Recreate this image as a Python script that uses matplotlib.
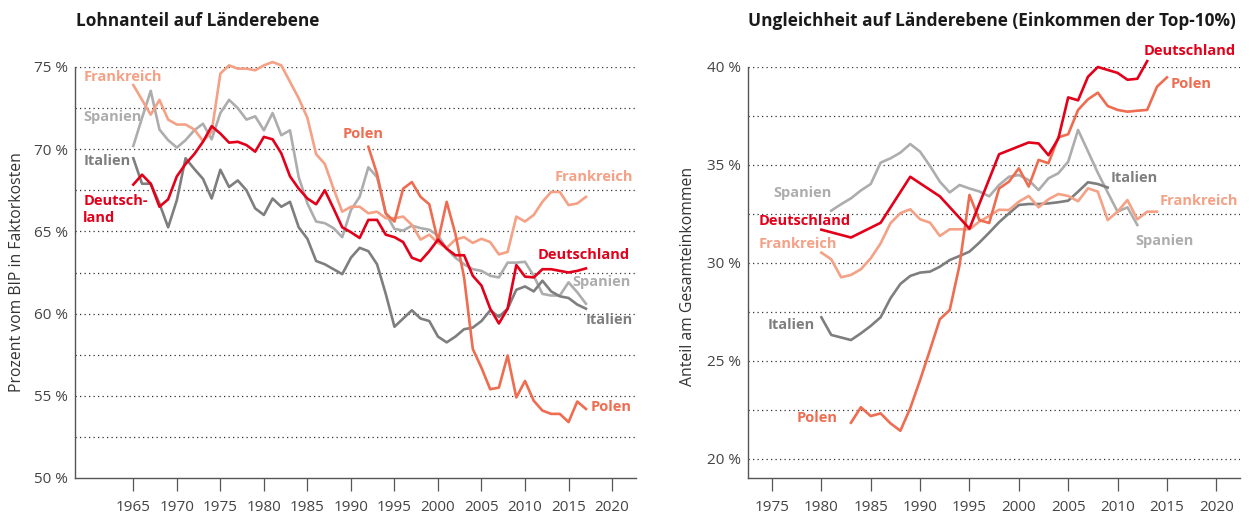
import matplotlib
matplotlib.use("Agg")
import matplotlib.pyplot as plt
import numpy as np

plt.rcParams['font.family'] = ['Open Sans', 'DejaVu Sans']

# Lohnanteil (left panel), 1965-2017
years_l = list(range(1965, 2018))
fr_l = [73.9, 73.0, 72.1, 73.0, 71.8, 71.5, 71.5, 71.2, 70.5, 71.05,
        74.6, 75.1, 74.9, 74.9, 74.8, 75.1, 75.3, 75.1, 74.1, 73.1,
        71.9, 69.7, 69.1, 67.6, 66.2, 66.5, 66.5, 66.1, 66.2, 65.8,
        65.8, 65.9, 65.4, 64.5, 64.8, 64.3, 64.0, 64.5, 64.65, 64.3,
        64.55, 64.35, 63.6, 63.75, 65.9, 65.6, 66.0, 66.8, 67.4, 67.4,
        66.6, 66.7, 67.1]
es_l = [70.2, 71.9, 73.55, 71.2, 70.55, 70.1, 70.55, 71.15, 71.55, 70.6,
        72.2, 73.0, 72.5, 71.8, 72.0, 71.15, 72.2, 70.85, 71.15, 68.3,
        66.7, 65.6, 65.5, 65.2, 64.65, 66.3, 67.1, 68.9, 68.3, 66.1,
        65.15, 65.05, 65.35, 65.2, 65.1, 64.75, 63.95, 63.4, 63.0, 62.7,
        62.6, 62.3, 62.2, 63.1, 63.1, 63.15, 62.3, 61.2, 61.1, 61.1,
        61.9, 61.3, 60.6]
it_l = [69.45, 67.9, 67.9, 66.7, 65.25, 66.9, 69.45, 68.8, 68.2, 67.0,
        68.75, 67.7, 68.1, 67.5, 66.4, 66.0, 67.0, 66.5, 66.8, 65.25,
        64.55, 63.2, 63.0, 62.7, 62.4, 63.4, 64.0, 63.8, 63.0, 61.2,
        59.2, 59.7, 60.2, 59.7, 59.55, 58.6, 58.25, 58.6, 59.05, 59.15,
        59.55, 60.2, 59.8, 60.3, 61.45, 61.65, 61.35, 62.0, 61.35, 61.05,
        60.95, 60.55, 60.3]
de_l = [67.85, 68.45, 67.9, 66.5, 66.95, 68.35, 69.1, 69.7, 70.45, 71.4,
        70.95, 70.4, 70.45, 70.25, 69.85, 70.75, 70.6, 69.75, 68.35, 67.6,
        67.0, 66.65, 67.5, 66.4, 65.25, 64.95, 64.6, 65.7, 65.7, 64.8,
        64.65, 64.35, 63.4, 63.2, 63.8, 64.5, 63.95, 63.55, 63.55, 62.3,
        61.7, 60.3, 59.4, 60.3, 62.95, 62.25, 62.2, 62.7, 62.7, 62.6,
        62.5, 62.6, 62.75]
years_pl_l = list(range(1992, 2018))
pl_l = [70.15, 68.5, 66.1, 65.6, 67.6, 68.0, 67.1, 66.65, 64.4, 66.8,
        64.85, 62.2, 57.85, 56.7, 55.4, 55.5, 57.45, 54.9, 55.9, 54.7,
        54.1, 53.9, 53.9, 53.4, 54.65, 54.2]

# Top-10% Einkommensanteil (right panel)
years_de_r = [1980, 1983, 1986, 1989, 1992, 1995, 1998, 1999, 2000, 2001,
              2002, 2003, 2004, 2005, 2006, 2007, 2008, 2009, 2010, 2011,
              2012, 2013]
de_r = [31.7, 31.3, 32.05, 34.4, 33.4, 31.75, 35.55, 35.75, 35.95, 36.15,
        36.1, 35.5, 36.35, 38.45, 38.3, 39.5, 40.0, 39.85, 39.7, 39.35,
        39.4, 40.3]
years_fr_r = list(range(1980, 2015))
fr_r = [30.53, 30.19, 29.27, 29.39, 29.68, 30.24, 31.0, 32.03, 32.54, 32.74,
        32.23, 32.06, 31.38, 31.72, 31.72, 31.72, 32.11, 32.4, 32.72, 32.7,
        33.13, 33.42, 32.84, 33.25, 33.52, 33.42, 33.15, 33.81, 33.64, 32.19,
        32.62, 33.21, 32.23, 32.62, 32.62]
years_es_r = list(range(1981, 2013))
es_r = [32.67, 33.0, 33.3, 33.7, 34.03, 35.12, 35.34, 35.63, 36.07, 35.68,
        34.95, 34.15, 33.6, 33.98, 33.8, 33.65, 33.4, 33.98, 34.4, 34.49,
        34.23, 33.72, 34.32, 34.58, 35.17, 36.79, 35.7, 34.6, 33.6, 32.62,
        32.84, 31.94]
years_it_r = list(range(1980, 2010))
it_r = [27.23, 26.33, 26.2, 26.07, 26.41, 26.79, 27.23, 28.2, 28.93, 29.34,
        29.51, 29.56, 29.81, 30.15, 30.36, 30.58, 31.04, 31.55, 32.08, 32.53,
        32.96, 33.01, 33.01, 33.04, 33.1, 33.18, 33.64, 34.12, 34.03, 33.85]
years_pl_r = list(range(1983, 2016))
pl_r = [21.85, 22.64, 22.19, 22.33, 21.82, 21.44, 22.59, 24.03, 25.56, 27.13,
        27.6, 29.9, 33.47, 32.19, 32.04, 33.8, 34.15, 34.83, 33.9, 35.26,
        35.09, 36.41, 36.57, 37.81, 38.35, 38.69, 38.01, 37.81, 37.72, 37.77,
        37.81, 39.0, 39.47]

xticks = list(range(1965, 2021, 5))
xticks_r = list(range(1975, 2021, 5))

c_de = '#E2001A'
c_fr = '#F4A186'
c_pl = '#EE6C50'
c_es = '#ADADAD'
c_it = '#7E7E7E'
lw = 1.9

fig = plt.figure(figsize=(12.5, 5.2), dpi=100)
ax1 = fig.add_axes([0.06, 1 - 478 / 520, 0.4488, (478 - 67) / 520])
ax2 = fig.add_axes([0.5984, 1 - 478 / 520, 0.3936, (478 - 67) / 520])


def style_axis(ax, grid_vals, yticks, xt):
    for g in grid_vals:
        ax.axhline(g, color='#333333', lw=0.9, ls=(0, (1, 2.6)), zorder=1)
    for s in ['top', 'right']:
        ax.spines[s].set_visible(False)
    for s in ['left', 'bottom']:
        ax.spines[s].set_color('#555555')
        ax.spines[s].set_linewidth(1.0)
    ax.set_yticks(yticks)
    ax.set_yticklabels([f'{v} %' for v in yticks])
    ax.set_xticks(xt)
    ax.set_xticklabels([str(x) for x in xt])
    ax.tick_params(axis='y', length=0, pad=5, labelsize=11, labelcolor='#444444')
    ax.tick_params(axis='x', direction='out', length=9, width=0.9, color='#555555',
                   pad=7, labelsize=11, labelcolor='#444444')


# left panel
ax1.set_xlim(1958.3, 2022.75)
ax1.set_ylim(50, 75)
style_axis(ax1, np.arange(52.5, 75.1, 2.5), list(range(50, 76, 5)), xticks)
ax1.plot(years_l, es_l, color=c_es, lw=lw, clip_on=False, zorder=3)
ax1.plot(years_l, it_l, color=c_it, lw=lw, clip_on=False, zorder=3)
ax1.plot(years_l, fr_l, color=c_fr, lw=lw, clip_on=False, zorder=4)
ax1.plot(years_pl_l, pl_l, color=c_pl, lw=lw, clip_on=False, zorder=4)
ax1.plot(years_l, de_l, color=c_de, lw=lw, clip_on=False, zorder=5)

lab = dict(fontsize=10.5, fontweight='bold', va='center', ha='left')
ax1.text(1959.25, 74.4, 'Frankreich', color=c_fr, **lab)
ax1.text(1959.25, 71.95, 'Spanien', color=c_es, **lab)
ax1.text(1959.25, 69.3, 'Italien', color=c_it, **lab)
ax1.text(1959.25, 66.35, 'Deutsch-\nland', color=c_de, linespacing=1.25, **lab)
ax1.text(1989.1, 70.9, 'Polen', color=c_pl, **lab)
ax1.text(2013.4, 68.3, 'Frankreich', color=c_fr, **lab)
ax1.text(2011.5, 63.55, 'Deutschland', color=c_de, **lab)
ax1.text(2015.4, 61.95, 'Spanien', color=c_es, **lab)
ax1.text(2017.0, 59.6, 'Italien', color=c_it, **lab)
ax1.text(2017.5, 54.3, 'Polen', color=c_pl, **lab)

# right panel
ax2.set_xlim(1972.57, 2022.4)
ax2.set_ylim(20 - 19 / 19.6, 40)
style_axis(ax2, np.arange(20, 40.1, 2.5), list(range(20, 41, 5)), xticks_r)
ax2.plot(years_es_r, es_r, color=c_es, lw=lw, clip_on=False, zorder=3)
ax2.plot(years_it_r, it_r, color=c_it, lw=lw, clip_on=False, zorder=3)
ax2.plot(years_fr_r, fr_r, color=c_fr, lw=lw, clip_on=False, zorder=4)
ax2.plot(years_pl_r, pl_r, color=c_pl, lw=lw, clip_on=False, zorder=4)
ax2.plot(years_de_r, de_r, color=c_de, lw=lw, clip_on=False, zorder=5)

ax2.text(1975.1, 33.55, 'Spanien', color=c_es, **lab)
ax2.text(1973.6, 32.15, 'Deutschland', color=c_de, **lab)
ax2.text(1973.6, 30.95, 'Frankreich', color=c_fr, **lab)
ax2.text(1974.6, 26.85, 'Italien', color=c_it, **lab)
ax2.text(1977.5, 22.1, 'Polen', color=c_pl, **lab)
ax2.text(2012.6, 40.8, 'Deutschland', color=c_de, clip_on=False, **lab)
ax2.text(2015.4, 39.15, 'Polen', color=c_pl, **lab)
ax2.text(2009.25, 34.35, 'Italien', color=c_it, **lab)
ax2.text(2014.3, 33.15, 'Frankreich', color=c_fr, **lab)
ax2.text(2011.8, 31.1, 'Spanien', color=c_es, **lab)

# titles and axis labels
fig.text(76 / 1250, 1 - 21 / 520, 'Lohnanteil auf Länderebene',
         fontsize=12.4, fontweight='bold', color='#1a1a1a', va='center', ha='left')
fig.text(748 / 1250, 1 - 21 / 520, 'Ungleichheit auf Länderebene (Einkommen der Top-10%)',
         fontsize=12.4, fontweight='bold', color='#1a1a1a', va='center', ha='left')
fig.text(17 / 1250, 1 - 272 / 520, 'Prozent vom BIP in Faktorkosten', rotation=90,
         fontsize=11.3, color='#333333', va='center', ha='center')
fig.text(688 / 1250, 1 - 276 / 520, 'Anteil am Gesamteinkommen', rotation=90,
         fontsize=11.3, color='#333333', va='center', ha='center')

fig.savefig('out.png', dpi=100)
